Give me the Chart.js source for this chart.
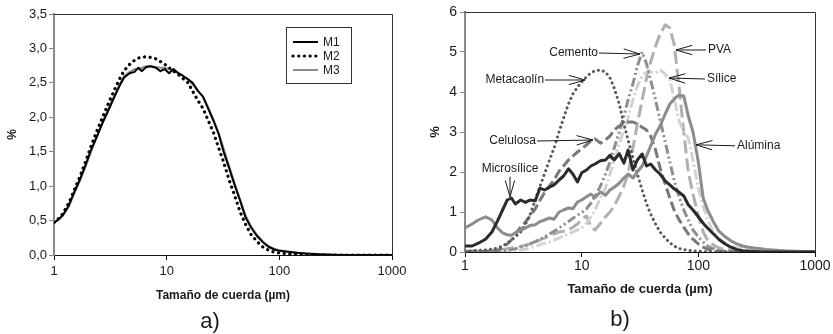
<!DOCTYPE html>
<html lang="es">
<head>
<meta charset="utf-8">
<title>Distribución de tamaño de cuerda</title>
<script src="https://cdn.jsdelivr.net/npm/chart.js@4.4.1/dist/chart.umd.min.js"></script>
<style>
  html, body { margin: 0; padding: 0; background: #fff; }
  #fig { position: relative; width: 833px; height: 334px; overflow: hidden; background: #fff; }
  canvas { position: absolute; top: 0; }
  #panelA { left: 0; }
  #panelB { left: 420px; }
</style>
</head>
<body>
<div id="fig">
  <canvas id="panelA" width="420" height="334" style="width:420px;height:334px"></canvas>
  <canvas id="panelB" width="413" height="334" style="width:413px;height:334px"></canvas>
</div>
<script>
const FONT = '"Liberation Sans", Arial, Helvetica, sans-serif';
const INK = '#1a1a1a';

// ---------- Panel a): chord-length distribution of mixes M1, M2, M3 (%) ----------
const sizesA = [1, 1.1, 1.2, 1.35, 1.5, 1.7, 1.9, 2.1, 2.4, 2.7,
                3.0, 3.4, 3.8, 4.2, 4.7, 5.2, 5.6, 6.0, 6.6, 7.2,
                8.0, 8.8, 9.6, 10.5, 11.5, 12.7, 14, 15.5, 17, 19,
                21, 23, 26, 29, 32, 36, 40, 45, 50, 56,
                63, 71, 80, 90, 100, 115, 130, 150, 180, 220,
                270, 330, 400, 500, 650, 800, 1000];

const m1 = [0.47, 0.52, 0.58, 0.72, 0.9, 1.1, 1.3, 1.5, 1.72, 1.92,
            2.08, 2.28, 2.45, 2.58, 2.64, 2.66, 2.72, 2.67, 2.73, 2.74,
            2.72, 2.67, 2.7, 2.64, 2.7, 2.64, 2.6, 2.55, 2.5, 2.38,
            2.3, 2.15, 1.95, 1.75, 1.5, 1.25, 1.02, 0.78, 0.55, 0.4,
            0.28, 0.19, 0.12, 0.08, 0.06, 0.05, 0.04, 0.03, 0.02, 0.01,
            0.005, 0, 0, 0, 0, 0, 0];

const m2 = [0.47, 0.53, 0.6, 0.75, 0.93, 1.14, 1.35, 1.55, 1.8, 2.0,
            2.18, 2.38, 2.55, 2.68, 2.77, 2.83, 2.86, 2.87, 2.88, 2.87,
            2.85, 2.81, 2.77, 2.72, 2.67, 2.62, 2.56, 2.5, 2.38, 2.24,
            2.13, 1.98, 1.78, 1.55, 1.35, 1.08, 0.87, 0.62, 0.45, 0.3,
            0.2, 0.12, 0.07, 0.04, 0.03, 0.02, 0.01, 0.01, 0, 0,
            0, 0, 0, 0, 0, 0, 0];

const m3 = [0.47, 0.51, 0.57, 0.7, 0.88, 1.08, 1.28, 1.47, 1.72, 1.93,
            2.1, 2.3, 2.47, 2.6, 2.66, 2.7, 2.7, 2.72, 2.74, 2.74,
            2.73, 2.72, 2.72, 2.7, 2.68, 2.64, 2.6, 2.55, 2.48, 2.38,
            2.3, 2.17, 1.97, 1.77, 1.55, 1.28, 1.05, 0.8, 0.58, 0.42,
            0.3, 0.2, 0.13, 0.09, 0.07, 0.05, 0.04, 0.03, 0.02, 0.015,
            0.01, 0.005, 0, 0, 0, 0, 0];

// ---------- Panel b): chord-length distribution of each raw material (%) ----------
const sizesB = [1, 1.15, 1.3, 1.5, 1.7, 1.9, 2.1, 2.3, 2.5, 2.7,
                3.0, 3.3, 3.6, 4.0, 4.4, 4.8, 5.3, 5.8, 6.4, 7.0,
                7.7, 8.4, 9.2, 10, 11, 12, 13, 14.5, 16, 17.5,
                19, 21, 23, 25, 27.5, 30, 33, 36, 39, 43,
                47, 52, 57, 62, 68, 75, 82, 90, 100, 110,
                120, 135, 150, 170, 190, 215, 240, 270, 300, 340,
                380, 430, 480, 540, 600, 680, 760, 850, 1000];

const microsilice = [0.15, 0.15, 0.22, 0.32, 0.5, 0.78, 1.05, 1.3, 1.35, 1.2,
                     1.3, 1.24, 1.3, 1.28, 1.6, 1.55, 1.62, 1.68, 1.8, 1.9,
                     2.08, 1.95, 1.75, 1.98, 2.05, 2.15, 2.2, 2.28, 2.3, 2.42,
                     2.3, 2.46, 2.22, 2.55, 2.05, 2.3, 2.45, 2.15, 2.2, 2.05,
                     1.95, 1.78, 1.68, 1.58, 1.5, 1.4, 1.18, 1.05, 0.88, 0.72,
                     0.6, 0.45, 0.32, 0.2, 0.12, 0.06, 0.03, 0.02, 0.01, 0,
                     0, 0, 0, 0, 0, 0, 0, 0, 0];

const alumina = [0.6, 0.7, 0.8, 0.88, 0.8, 0.6, 0.48, 0.43, 0.42, 0.48,
                 0.55, 0.6, 0.66, 0.68, 0.76, 0.8, 0.85, 0.82, 1.0, 1.05,
                 1.1, 1.08, 1.25, 1.3, 1.38, 1.45, 1.36, 1.5, 1.42, 1.55,
                 1.62, 1.72, 1.85, 1.95, 1.85, 2.0, 2.15, 2.4, 2.65, 2.95,
                 3.15, 3.45, 3.7, 3.82, 3.92, 3.9, 3.4, 3.0, 2.25, 1.35,
                 1.05, 0.75, 0.52, 0.38, 0.28, 0.2, 0.15, 0.12, 0.1, 0.08,
                 0.06, 0.05, 0.04, 0.03, 0.02, 0.02, 0.01, 0.01, 0.01];

const metacaolin = [0.02, 0.03, 0.04, 0.05, 0.07, 0.1, 0.15, 0.22, 0.3, 0.38,
                    0.5, 0.7, 0.92, 1.3, 1.65, 1.95, 2.3, 2.6, 3.0, 3.35,
                    3.7, 3.95, 4.12, 4.25, 4.38, 4.48, 4.53, 4.55, 4.5, 4.35,
                    4.1, 3.7, 3.2, 2.8, 2.35, 1.95, 1.55, 1.2, 0.95, 0.7,
                    0.5, 0.35, 0.23, 0.15, 0.09, 0.06, 0.04, 0.03, 0.02, 0.01,
                    0, 0, 0, 0, 0, 0, 0, 0, 0, 0,
                    0, 0, 0, 0, 0, 0, 0, 0, 0];

const celulosa = [0.01, 0.01, 0.01, 0.01, 0.02, 0.04, 0.12, 0.2, 0.3, 0.45,
                  0.62, 0.75, 0.9, 1.08, 1.3, 1.48, 1.65, 1.8, 2.02, 2.15,
                  2.3, 2.4, 2.5, 2.58, 2.68, 2.78, 2.83, 2.72, 2.8, 2.9,
                  3.05, 3.15, 3.22, 3.25, 3.25, 3.2, 3.12, 3.05, 2.9, 2.55,
                  2.1, 1.7, 1.35, 1.05, 0.82, 0.62, 0.45, 0.32, 0.2, 0.12,
                  0.07, 0.04, 0.02, 0.01, 0, 0, 0, 0, 0, 0,
                  0, 0, 0, 0, 0, 0, 0, 0, 0];

const cemento = [0, 0, 0, 0, 0.01, 0.02, 0.03, 0.04, 0.06, 0.08,
                 0.12, 0.16, 0.2, 0.26, 0.32, 0.38, 0.45, 0.52, 0.6, 0.68,
                 0.76, 0.84, 0.92, 0.98, 1.08, 1.22, 1.4, 1.65, 1.95, 2.25,
                 2.6, 3.0, 3.4, 3.8, 4.2, 4.65, 5.0, 4.7, 4.3, 3.8,
                 3.3, 2.75, 2.25, 1.8, 1.4, 1.05, 0.8, 0.55, 0.38, 0.25,
                 0.15, 0.08, 0.04, 0.02, 0.01, 0, 0, 0, 0, 0,
                 0, 0, 0, 0, 0, 0, 0, 0, 0];

const pva = [0.02, 0.02, 0.03, 0.03, 0.04, 0.05, 0.06, 0.08, 0.1, 0.12,
             0.14, 0.17, 0.2, 0.25, 0.3, 0.35, 0.4, 0.45, 0.5, 0.52,
             0.55, 0.62, 0.7, 0.82, 0.9, 0.62, 0.55, 0.72, 0.88, 1.0,
             1.15, 1.4, 1.65, 1.95, 2.6, 3.2, 3.8, 4.35, 4.75, 5.15,
             5.45, 5.68, 5.6, 5.2, 4.2, 3.0, 2.0, 1.45, 0.9, 0.5,
             0.3, 0.17, 0.1, 0.06, 0.05, 0.04, 0.03, 0.03, 0.02, 0.03,
             0.02, 0.02, 0.02, 0.01, 0.01, 0.01, 0.01, 0.01, 0.01];

const silice = [0, 0, 0, 0, 0, 0.01, 0.01, 0.02, 0.02, 0.03,
                0.05, 0.07, 0.1, 0.14, 0.18, 0.22, 0.25, 0.3, 0.35, 0.4,
                0.45, 0.5, 0.55, 0.6, 0.72, 0.88, 1.05, 1.35, 1.6, 1.95,
                2.3, 2.7, 3.05, 3.35, 3.8, 4.15, 4.4, 4.5, 4.5, 4.48,
                4.55, 4.45, 4.3, 3.85, 3.3, 3.0, 2.85, 2.3, 1.6, 1.15,
                0.8, 0.5, 0.3, 0.2, 0.14, 0.1, 0.08, 0.06, 0.05, 0.05,
                0.06, 0.04, 0.05, 0.03, 0.02, 0.02, 0.01, 0.01, 0.01];

// Axis ticks
const xTickValues = [1, 10, 100, 1000];
const yMaxA = 3.5, yStepA = 0.5;
const yMaxB = 6, yStepB = 1;

// Labelled arrows in panel b): tip sits on the curve (data units),
// dx/dy is the label offset from the tip in pixels.
const callouts = [
  { text: 'Cemento',     x: 31.6, y: 4.95, dx: -42, dy: -1,  align: 'right' },
  { text: 'Metacaolín',  x: 10.7, y: 4.3,  dx: -41, dy: 0,   align: 'right' },
  { text: 'Celulosa',    x: 12.5, y: 2.8,  dx: -57, dy: 1,   align: 'right' },
  { text: 'Microsílice', x: 2.43, y: 1.38, dx: 0,   dy: -28, align: 'center' },
  { text: 'PVA',         x: 64.3, y: 5.05, dx: 32,  dy: 0,   align: 'left' },
  { text: 'Sílice',      x: 56,   y: 4.35, dx: 38,  dy: 1,   align: 'left' },
  { text: 'Alúmina',     x: 95.5, y: 2.68, dx: 41,  dy: 1,   align: 'left' }
];

const pts = (xs, ys) => xs.map((x, i) => ({ x, y: ys[i] }));

function line(label, xs, ys, color, width, dash, cap) {
  return {
    label, data: pts(xs, ys),
    borderColor: color, backgroundColor: color,
    borderWidth: width, borderDash: dash || [],
    borderCapStyle: cap || 'butt', borderJoinStyle: 'round',
    pointRadius: 0, tension: 0, fill: false
  };
}

function logX(height, pad, size) {
  return {
    type: 'logarithmic', min: 1, max: 1000,
    afterBuildTicks: s => { s.ticks = xTickValues.map(v => ({ value: v })); },
    afterFit: s => { s.height = height; },
    ticks: { callback: v => String(v), color: INK, font: { family: FONT, size }, padding: pad,
             maxRotation: 0, autoSkip: false },
    grid: { drawOnChartArea: false, drawTicks: true, tickLength: 5, color: '#111' },
    border: { color: '#111', width: 1 }
  };
}

function linY(max, step, width, pad, size, fmt) {
  return {
    type: 'linear', min: 0, max,
    afterFit: s => { s.width = width; },
    ticks: { stepSize: step, callback: fmt, color: INK, font: { family: FONT, size }, padding: pad },
    grid: { drawOnChartArea: false, drawTicks: true, tickLength: 5, color: '#888' },
    border: { color: '#8a8a8a', width: 2 }
  };
}

// Box frame, axis titles and panel letter
function decor(cfg) {
  return {
    id: 'decor',
    afterDraw(chart) {
      const { ctx, chartArea: a } = chart;
      ctx.save();
      ctx.strokeStyle = '#333';
      ctx.lineWidth = 1;
      ctx.beginPath();
      ctx.moveTo(a.left, a.top + 0.5);
      ctx.lineTo(Math.round(a.right) + 0.5, a.top + 0.5);
      ctx.lineTo(Math.round(a.right) + 0.5, a.bottom);
      ctx.stroke();

      ctx.fillStyle = INK;
      ctx.textAlign = 'center';
      ctx.textBaseline = 'middle';
      ctx.font = `bold ${cfg.titleSize}px ${FONT}`;
      ctx.fillText('Tamaño de cuerda (µm)', (a.left + a.right) / 2, a.bottom + cfg.xTitleGap);
      ctx.save();
      ctx.translate(cfg.yTitleX, (a.top + a.bottom) / 2);
      ctx.rotate(-Math.PI / 2);
      ctx.fillText('%', 0, 0);
      ctx.restore();

      ctx.font = `22px ${FONT}`;
      ctx.fillText(cfg.tag, cfg.tagX, cfg.tagY);
      ctx.restore();
    }
  };
}

// Boxed legend inside panel a)
const legendBox = {
  id: 'legendBox',
  afterDraw(chart) {
    const { ctx, chartArea: a } = chart;
    const left = Math.round(a.right) - 106, top = Math.round(a.top) + 13, w = 65, h = 56;
    ctx.save();
    ctx.fillStyle = '#fff';
    ctx.fillRect(left, top, w, h);
    ctx.strokeStyle = '#333';
    ctx.lineWidth = 1;
    ctx.strokeRect(left + 0.5, top + 0.5, w, h);
    ctx.font = `12px ${FONT}`;
    ctx.textAlign = 'left';
    ctx.textBaseline = 'middle';
    chart.data.datasets.forEach((ds, i) => {
      const yy = top + 15 + i * 14;
      ctx.save();
      ctx.strokeStyle = ds.borderColor;
      ctx.lineWidth = ds.borderWidth;
      ctx.lineCap = ds.borderCapStyle;
      ctx.setLineDash(ds.borderDash);
      ctx.beginPath();
      ctx.moveTo(left + 7, yy);
      ctx.lineTo(left + 32, yy);
      ctx.stroke();
      ctx.restore();
      ctx.fillStyle = INK;
      ctx.fillText(ds.label, left + 37, yy + 1);
    });
    ctx.restore();
  }
};

// Label + open-headed arrow pointing at a curve
const arrows = {
  id: 'arrows',
  afterDatasetsDraw(chart) {
    const { ctx, scales: { x, y } } = chart;
    ctx.save();
    ctx.font = `12px ${FONT}`;
    ctx.fillStyle = INK;
    ctx.strokeStyle = INK;
    ctx.lineWidth = 1;
    ctx.textBaseline = 'middle';
    callouts.forEach(n => {
      const tx = x.getPixelForValue(n.x), ty = y.getPixelForValue(n.y);
      const ax = tx + n.dx, ay = ty + n.dy;
      ctx.textAlign = n.align;
      ctx.fillText(n.text, ax, ay);
      let sx, sy;
      if (n.align === 'center') { sx = ax; sy = ay + 8; }
      else if (n.align === 'right') { sx = ax + 1; sy = ay; }
      else { sx = ax - 2; sy = ay; }
      const ang = Math.atan2(ty - sy, tx - sx);
      const L = 17, spread = 0.28;
      ctx.beginPath();
      ctx.moveTo(sx, sy);
      ctx.lineTo(tx, ty);
      ctx.moveTo(tx - L * Math.cos(ang - spread), ty - L * Math.sin(ang - spread));
      ctx.lineTo(tx, ty);
      ctx.lineTo(tx - L * Math.cos(ang + spread), ty - L * Math.sin(ang + spread));
      ctx.stroke();
    });
    ctx.restore();
  }
};

const common = {
  responsive: false,
  animation: false,
  devicePixelRatio: 1,
  events: [],
  plugins: { legend: { display: false }, tooltip: { enabled: false } }
};

new Chart(document.getElementById('panelA'), {
  type: 'line',
  data: {
    datasets: [
      line('M1', sizesA, m1, '#000000', 2),
      line('M2', sizesA, m2, '#000000', 3.2, [0.1, 5.6], 'round'),
      line('M3', sizesA, m3, '#8c8c8c', 2)
    ]
  },
  options: Object.assign({}, common, {
    layout: { padding: { left: 0, right: 28, top: 14, bottom: 0 } },
    scales: {
      x: logX(79, 4, 13),
      y: linY(yMaxA, yStepA, 54, 2, 13, v => v.toFixed(1).replace('.', ','))
    }
  }),
  plugins: [decor({ titleSize: 12, xTitleGap: 41, yTitleX: 13, tag: 'a)', tagX: 210, tagY: 322 }), legendBox]
});

new Chart(document.getElementById('panelB'), {
  type: 'line',
  data: {
    datasets: [
      line('Microsílice', sizesB, microsilice, '#2b2b2b', 3),
      line('Alúmina', sizesB, alumina, '#8c8c8c', 3),
      line('Metacaolín', sizesB, metacaolin, '#595959', 3, [0.1, 5], 'round'),
      line('Celulosa', sizesB, celulosa, '#787878', 3, [10, 4]),
      line('Cemento', sizesB, cemento, '#8f8f8f', 3, [9, 3, 2, 3, 2, 3]),
      line('Sílice', sizesB, silice, '#d2d2d2', 3, [10, 3, 2, 3]),
      line('PVA', sizesB, pva, '#b0b0b0', 3, [13, 5])
    ]
  },
  options: Object.assign({}, common, {
    layout: { padding: { left: 0, right: 18, top: 12, bottom: 0 } },
    scales: {
      x: logX(82, 1, 14),
      y: linY(yMaxB, yStepB, 45, 3, 14, v => String(v))
    }
  }),
  plugins: [decor({ titleSize: 13, xTitleGap: 37, yTitleX: 15, tag: 'b)', tagX: 200, tagY: 320 }), arrows]
});
</script>
</body>
</html>
